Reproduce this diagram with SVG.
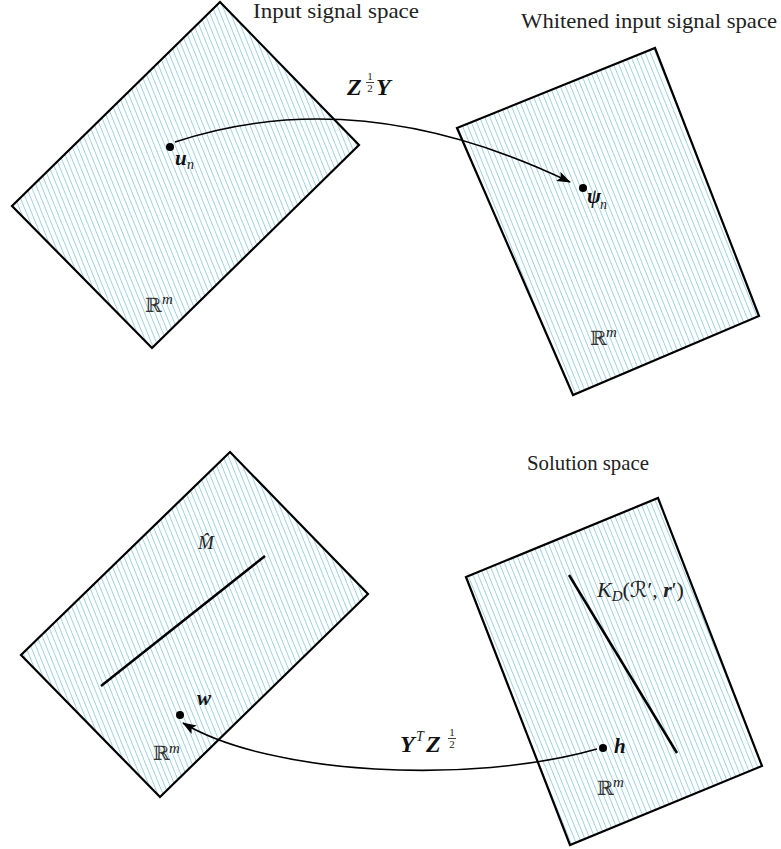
<svg xmlns="http://www.w3.org/2000/svg" width="781" height="849" viewBox="0 0 781 849">
<style>
.space { fill: url(#hatch); stroke: #000; stroke-width: 2.2; stroke-linejoin: miter; }
.inner { stroke: #000; stroke-width: 2.5; fill: none; }
.dot { fill: #000; }
.conn { fill: none; stroke: #000; stroke-width: 1.6; }
.title { font-family: "Liberation Serif", "Times New Roman", "DejaVu Serif", serif; font-size: 21px; fill: #222; }
.bi { font-family: "Liberation Serif", "Times New Roman", "DejaVu Serif", serif; font-weight: bold; font-style: italic; fill: #111; }
.it { font-family: "Liberation Serif", "Times New Roman", "DejaVu Serif", serif; font-style: italic; fill: #222; }
.rm { font-family: "Liberation Serif", "Times New Roman", "DejaVu Serif", serif; fill: #222; }
.bb { font-family: "DejaVu Serif", "DejaVu Sans", serif; fill: #333; }
</style>
<defs>
<pattern id="hatch" patternUnits="userSpaceOnUse" width="4.8" height="20" patternTransform="rotate(-22)">
<rect x="0" y="0" width="4.8" height="20" fill="#fff"/>
<line x1="2.4" y1="-1" x2="2.4" y2="21" stroke="#9fd2e2" stroke-width="1"/>
</pattern>
<marker id="arrow" viewBox="0 0 14 10" refX="13" refY="5" markerWidth="14" markerHeight="10" markerUnits="userSpaceOnUse" orient="auto">
<path d="M0,0 L14,5 L0,10 L3,5 Z" fill="#000"/>
</marker>
</defs>
<rect width="781" height="849" fill="#fff"/>

<g id="node-input">
<polygon class="space" points="220,2 359,145 152,348 12,206"/>
<text class="title" x="253" y="18" textLength="166" lengthAdjust="spacingAndGlyphs">Input signal space</text>
<circle class="dot" cx="170" cy="147" r="4"/>
<text class="bi" x="175" y="165" font-size="21">u</text>
<text class="it" x="187" y="169" font-size="14">n</text>
<text class="bb" x="145" y="312" font-size="20">ℝ</text>
<text class="it" x="162" y="304" font-size="15">m</text>
</g>

<g id="node-whitened">
<polygon class="space" points="457,128 655,48 759,316 573,395"/>
<text class="title" x="521" y="28" textLength="256" lengthAdjust="spacingAndGlyphs">Whitened input signal space</text>
<circle class="dot" cx="583" cy="188" r="4"/>
<text class="bi" x="587" y="203" font-size="21">ψ</text>
<text class="it" x="600" y="209" font-size="14">n</text>
<text class="bb" x="590" y="345" font-size="20">ℝ</text>
<text class="it" x="606" y="337" font-size="15">m</text>
</g>

<g id="node-mhat">
<polygon class="space" points="230,452 368,594 160,797 21,655"/>
<line class="inner" x1="101" y1="686" x2="265" y2="556"/>
<text class="it" x="198" y="549" font-size="19">M̂</text>
<circle class="dot" cx="180" cy="715" r="4"/>
<text class="bi" x="197" y="705" font-size="21">w</text>
<text class="bb" x="153" y="760" font-size="20">ℝ</text>
<text class="it" x="169" y="753" font-size="15">m</text>
</g>

<g id="node-solution">
<polygon class="space" points="466,577 658,498 762,766 570,845"/>
<text class="title" x="527" y="470" textLength="122" lengthAdjust="spacingAndGlyphs">Solution space</text>
<line class="inner" x1="569" y1="575" x2="677" y2="753"/>
<text class="it" x="597" y="597" font-size="22">K<tspan font-size="15" dy="4">D</tspan><tspan dy="-4" font-style="normal">(</tspan><tspan font-family="DejaVu Serif, DejaVu Sans, serif">ℛ</tspan><tspan font-style="normal">′, </tspan><tspan font-weight="bold">r</tspan><tspan font-style="normal">′)</tspan></text>
<circle class="dot" cx="603" cy="748" r="4"/>
<text class="bi" x="614" y="753" font-size="21">h</text>
<text class="bb" x="597" y="795" font-size="20">ℝ</text>
<text class="it" x="613" y="787" font-size="15">m</text>
</g>

<g id="connectors">
<path class="conn" d="M175,142 C290,104 420,110 570,182" marker-end="url(#arrow)"/>
<path class="conn" d="M597,749 C470,785 270,775 183,723" marker-end="url(#arrow)"/>
<g id="label-z-half-y">
<text class="bi" x="347" y="95" font-size="24">Z</text>
<text class="rm" x="370" y="80" font-size="11" text-anchor="middle">1</text>
<line x1="366" y1="82.5" x2="374" y2="82.5" stroke="#111" stroke-width="0.8"/>
<text class="rm" x="370" y="92" font-size="11" text-anchor="middle">2</text>
<text class="bi" x="376" y="95" font-size="24">Y</text>
</g>
<g id="label-yt-z-half">
<text class="bi" x="400" y="752" font-size="24">Y</text>
<text class="it" x="416" y="741" font-size="14">T</text>
<text class="bi" x="426" y="752" font-size="24">Z</text>
<text class="rm" x="452" y="736" font-size="11" text-anchor="middle">1</text>
<line x1="448" y1="738.5" x2="456" y2="738.5" stroke="#111" stroke-width="0.8"/>
<text class="rm" x="452" y="748" font-size="11" text-anchor="middle">2</text>
</g>
</g>
</svg>
